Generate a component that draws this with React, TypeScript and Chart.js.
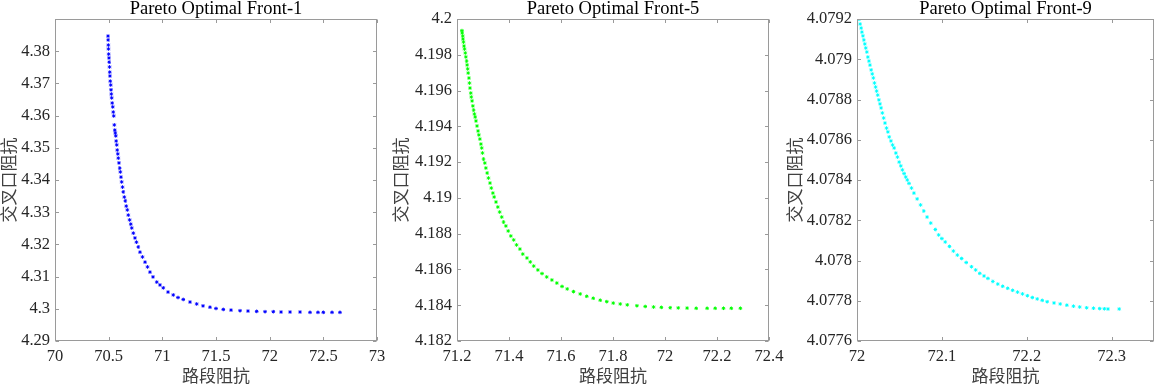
import React, { useEffect, useRef } from 'react';
import { Chart, registerables } from 'chart.js';
Chart.register(...registerables);

const X_LABEL = '路段阻抗';
const Y_LABEL = '交叉口阻抗';

const F1_TITLE = 'Pareto Optimal Front-1';
const F1_XTICKS = [70, 70.5, 71, 71.5, 72, 72.5, 73];
const F1_YTICKS = [4.29, 4.3, 4.31, 4.32, 4.33, 4.34, 4.35, 4.36, 4.37, 4.38];
const F1_X = [70.494, 70.495, 70.497, 70.498, 70.500, 70.503, 70.505, 70.508, 70.510, 70.512,
  70.515, 70.519, 70.522, 70.525, 70.528, 70.533, 70.538, 70.543, 70.547, 70.553,
  70.557, 70.562, 70.566, 70.570, 70.575, 70.580, 70.585, 70.590, 70.596, 70.603,
  70.609, 70.615, 70.621, 70.629, 70.636, 70.646, 70.655, 70.664, 70.674, 70.683,
  70.695, 70.706, 70.715, 70.730, 70.745, 70.759, 70.776, 70.792, 70.815, 70.839,
  70.862, 70.885, 70.913, 70.948, 70.978, 71.009, 71.053, 71.102, 71.146, 71.195,
  71.258, 71.320, 71.379, 71.444, 71.500, 71.568, 71.640, 71.724, 71.798, 71.879,
  71.957, 72.034, 72.106, 72.190, 72.283, 72.376, 72.450, 72.500, 72.581, 72.655];
const F1_Y = [4.3847, 4.3835, 4.3819, 4.3807, 4.3791, 4.3779, 4.3766, 4.3751, 4.3735, 4.3723,
  4.3707, 4.3695, 4.3680, 4.3667, 4.3655, 4.3639, 4.3627, 4.3611, 4.3599, 4.3571,
  4.3555, 4.3546, 4.3537, 4.3521, 4.3509, 4.3493, 4.3481, 4.3468, 4.3453, 4.3437,
  4.3425, 4.3409, 4.3394, 4.3378, 4.3363, 4.3347, 4.3335, 4.3319, 4.3307, 4.3291,
  4.3276, 4.3263, 4.3251, 4.3235, 4.3220, 4.3207, 4.3192, 4.3176, 4.3161, 4.3145,
  4.3130, 4.3114, 4.3099, 4.3083, 4.3074, 4.3065, 4.3052, 4.3043, 4.3035, 4.3029,
  4.3021, 4.3015, 4.3009, 4.3005, 4.3001, 4.2998, 4.2996, 4.2994, 4.2993, 4.2992,
  4.2991, 4.2991, 4.2990, 4.2990, 4.2990, 4.2989, 4.2989, 4.2989, 4.2989, 4.2989];

const F2_TITLE = 'Pareto Optimal Front-5';
const F2_XTICKS = [71.2, 71.4, 71.6, 71.8, 72, 72.2, 72.4];
const F2_YTICKS = [4.182, 4.184, 4.186, 4.188, 4.19, 4.192, 4.194, 4.196, 4.198, 4.2];
const F2_X = [71.219, 71.220, 71.222, 71.223, 71.225, 71.227, 71.229, 71.232, 71.234, 71.237,
  71.239, 71.241, 71.243, 71.246, 71.248, 71.250, 71.253, 71.255, 71.258, 71.261,
  71.264, 71.267, 71.270, 71.273, 71.277, 71.281, 71.284, 71.288, 71.292, 71.295,
  71.298, 71.302, 71.307, 71.311, 71.316, 71.321, 71.327, 71.332, 71.338, 71.343,
  71.350, 71.357, 71.364, 71.372, 71.379, 71.388, 71.397, 71.407, 71.418, 71.429,
  71.442, 71.453, 71.469, 71.482, 71.495, 71.511, 71.527, 71.545, 71.565, 71.584,
  71.604, 71.624, 71.648, 71.674, 71.699, 71.724, 71.751, 71.776, 71.801, 71.828,
  71.855, 71.892, 71.924, 71.956, 71.986, 72.020, 72.051, 72.085, 72.120, 72.162,
  72.193, 72.225, 72.255, 72.290];
const F2_Y = [4.19935, 4.19922, 4.19905, 4.19888, 4.19871, 4.19849, 4.19832, 4.19810, 4.19788, 4.19765,
  4.19743, 4.19721, 4.19698, 4.19670, 4.19642, 4.19614, 4.19586, 4.19564, 4.19542, 4.19514,
  4.19491, 4.19469, 4.19452, 4.19430, 4.19402, 4.19374, 4.19352, 4.19329, 4.19301, 4.19279,
  4.19251, 4.19217, 4.19195, 4.19167, 4.19139, 4.19111, 4.19083, 4.19055, 4.19027, 4.19005,
  4.18977, 4.18949, 4.18921, 4.18893, 4.18865, 4.18843, 4.18815, 4.18787, 4.18765, 4.18737,
  4.18714, 4.18686, 4.18664, 4.18642, 4.18619, 4.18597, 4.18577, 4.18558, 4.18541, 4.18524,
  4.18505, 4.18491, 4.18476, 4.18463, 4.18450, 4.18439, 4.18428, 4.18420, 4.18412, 4.18407,
  4.18402, 4.18397, 4.18393, 4.18390, 4.18388, 4.18386, 4.18385, 4.18384, 4.18383, 4.18383,
  4.18383, 4.18383, 4.18383, 4.18383];

const F3_TITLE = 'Pareto Optimal Front-9';
const F3_XTICKS = [72, 72.1, 72.2, 72.3];
const F3_YTICKS = [4.0776, 4.0778, 4.078, 4.0782, 4.0784, 4.0786, 4.0788, 4.079, 4.0792];
const F3_X = [72.0023, 72.0037, 72.0049, 72.0058, 72.0070, 72.0081, 72.0092, 72.0103, 72.0116, 72.0128,
  72.0141, 72.0153, 72.0167, 72.0180, 72.0193, 72.0206, 72.0219, 72.0231, 72.0244, 72.0258,
  72.0271, 72.0284, 72.0299, 72.0314, 72.0330, 72.0348, 72.0364, 72.0380, 72.0400, 72.0419,
  72.0438, 72.0458, 72.0477, 72.0497, 72.0516, 72.0535, 72.0555, 72.0574, 72.0593, 72.0613,
  72.0642, 72.0671, 72.0709, 72.0749, 72.0787, 72.0826, 72.0869, 72.0923, 72.0962, 72.1000,
  72.1040, 72.1090, 72.1136, 72.1183, 72.1233, 72.1287, 72.1349, 72.1398, 72.1447, 72.1497,
  72.1543, 72.1601, 72.1659, 72.1717, 72.1776, 72.1834, 72.1892, 72.1950, 72.2008, 72.2066,
  72.2124, 72.2183, 72.2241, 72.2322, 72.2395, 72.2473, 72.2551, 72.2624, 72.2706, 72.2787,
  72.2860, 72.2915, 72.2958, 72.3090];
const F3_Y = [4.079198, 4.079175, 4.079155, 4.079135, 4.079116, 4.079096, 4.079076, 4.079056, 4.079036, 4.079011,
  4.078991, 4.078971, 4.078947, 4.078927, 4.078907, 4.078882, 4.078862, 4.078842, 4.078822, 4.078798,
  4.078778, 4.078758, 4.078733, 4.078708, 4.078683, 4.078658, 4.078639, 4.078614, 4.078594, 4.078574,
  4.078559, 4.078534, 4.078514, 4.078489, 4.078470, 4.078450, 4.078432, 4.078415, 4.078400, 4.078383,
  4.078360, 4.078335, 4.078306, 4.078276, 4.078246, 4.078216, 4.078186, 4.078154, 4.078127, 4.078109,
  4.078092, 4.078070, 4.078047, 4.078027, 4.078010, 4.077990, 4.077969, 4.077953, 4.077936, 4.077923,
  4.077911, 4.077896, 4.077883, 4.077872, 4.077862, 4.077852, 4.077843, 4.077834, 4.077825, 4.077816,
  4.077809, 4.077802, 4.077795, 4.077789, 4.077784, 4.077778, 4.077773, 4.077769, 4.077765, 4.077763,
  4.077761, 4.077760, 4.077759, 4.077759];

const SERIF = "'Liberation Serif', 'Times New Roman', serif";
const CJK = "'Noto Sans CJK SC', 'Noto Sans CJK JP', sans-serif";
const AXIS_COLOR = '#9a9a9a';
const TICK_COLOR = '#262626';
const LABEL_COLOR = '#404040';

Chart.defaults.font.family = SERIF;
Chart.defaults.font.size = 16.5;
Chart.defaults.color = TICK_COLOR;

const PANELS = [
  { title: F1_TITLE, xs: F1_X, ys: F1_Y, xTicks: F1_XTICKS, yTicks: F1_YTICKS, xMin: 70, xMax: 73, yMin: 4.29, yMax: 4.39, color: '#0000ff', left: 0, yAxisW: 55, plotW: 322, padR: 18 },
  { title: F2_TITLE, xs: F2_X, ys: F2_Y, xTicks: F2_XTICKS, yTicks: F2_YTICKS, xMin: 71.2, xMax: 72.4, yMin: 4.182, yMax: 4.2, color: '#00ff00', left: 392, yAxisW: 65, plotW: 312, padR: 22 },
  { title: F3_TITLE, xs: F3_X, ys: F3_Y, xTicks: F3_XTICKS, yTicks: F3_YTICKS, xMin: 72, xMax: 72.35, yMin: 4.0776, yMax: 4.0792, color: '#00ffff', left: 786, yAxisW: 71, plotW: 301, padR: 1 },
];

const fmt = (v: number) => String(parseFloat(v.toFixed(6)));

const boxPlugin = {
  id: 'matlabBox',
  afterDatasetsDraw(chart: any) {
    const { ctx, chartArea: a, scales } = chart;
    const L = Math.round(a.left) + 0.5, R = Math.round(a.right) - 0.5;
    const T = Math.round(a.top) + 0.5, B = Math.round(a.bottom) - 0.5;
    const tl = 3.5;
    ctx.save();
    ctx.strokeStyle = AXIS_COLOR;
    ctx.lineWidth = 1;
    ctx.strokeRect(L, T, R - L, B - T);
    ctx.beginPath();
    scales.x.ticks.forEach((t: any) => {
      const px = Math.round(scales.x.getPixelForValue(t.value)) + 0.5;
      ctx.moveTo(px, B); ctx.lineTo(px, B - tl);
      ctx.moveTo(px, T); ctx.lineTo(px, T + tl);
    });
    scales.y.ticks.forEach((t: any) => {
      const py = Math.round(scales.y.getPixelForValue(t.value)) + 0.5;
      ctx.moveTo(L, py); ctx.lineTo(L + tl, py);
      ctx.moveTo(R, py); ctx.lineTo(R - tl, py);
    });
    ctx.stroke();
    ctx.restore();
  },
};

const tickFont = { family: SERIF, size: 16.5, weight: 'normal', lineHeight: 1.2 };

function Panel({ p }: { p: any }) {
  const ref = useRef<HTMLCanvasElement>(null);
  const width = p.yAxisW + p.plotW + p.padR;
  useEffect(() => {
    const chart = new Chart(ref.current as HTMLCanvasElement, {
      type: 'scatter',
      data: {
        datasets: [{
          data: p.xs.map((x: number, i: number) => ({ x, y: p.ys[i] })),
          pointStyle: 'star',
          pointRadius: 1.8,
          pointBorderWidth: 1,
          borderColor: p.color,
          backgroundColor: p.color,
        }],
      },
      options: {
        responsive: false,
        animation: false,
        devicePixelRatio: 1,
        events: [],
        font: tickFont,
        layout: { padding: { left: 0, right: p.padR, top: 0, bottom: 0 } },
        plugins: {
          legend: { display: false },
          tooltip: { enabled: false },
          title: {
            display: true,
            text: p.title,
            fullSize: false,
            color: '#000',
            font: { family: SERIF, size: 18.5, weight: 'normal', lineHeight: 1 },
            padding: { top: 0, bottom: 0.5 },
          },
        },
        scales: {
          x: {
            type: 'linear',
            position: 'bottom',
            min: p.xMin,
            max: p.xMax,
            grid: { display: false, drawTicks: false },
            border: { display: false },
            ticks: { color: TICK_COLOR, font: tickFont, padding: 6, maxRotation: 0, autoSkip: false, callback: (v: any) => fmt(Number(v)) },
            title: { display: true, text: X_LABEL, color: LABEL_COLOR, font: { family: CJK, size: 17, lineHeight: 1 }, padding: { top: 0, bottom: 0 } },
            afterBuildTicks: (s: any) => { s.ticks = p.xTicks.map((value: number) => ({ value })); },
            afterFit: (s: any) => { s.height = 43; },
          },
          y: {
            type: 'linear',
            position: 'left',
            min: p.yMin,
            max: p.yMax,
            grid: { display: false, drawTicks: false },
            border: { display: false },
            ticks: { color: TICK_COLOR, font: tickFont, padding: 5, autoSkip: false, callback: (v: any) => fmt(Number(v)) },
            title: { display: true, text: Y_LABEL, color: LABEL_COLOR, font: { family: CJK, size: 17, lineHeight: 1 }, padding: { top: 0, bottom: 0 } },
            afterBuildTicks: (s: any) => { s.ticks = p.yTicks.map((value: number) => ({ value })); },
            afterFit: (s: any) => { s.width = p.yAxisW; },
          },
        },
      } as any,
      plugins: [boxPlugin],
    });
    return () => chart.destroy();
  }, []);
  return (
    <canvas
      ref={ref}
      width={width}
      height={384}
      style={{ position: 'absolute', left: p.left, top: 0, width, height: 384 }}
    />
  );
}

export default function App() {
  return (
    <div style={{ position: 'fixed', left: 0, top: 0, width: 1159, height: 384, overflow: 'hidden', background: '#fff' }}>
      {PANELS.map((p, i) => <Panel key={i} p={p} />)}
    </div>
  );
}
